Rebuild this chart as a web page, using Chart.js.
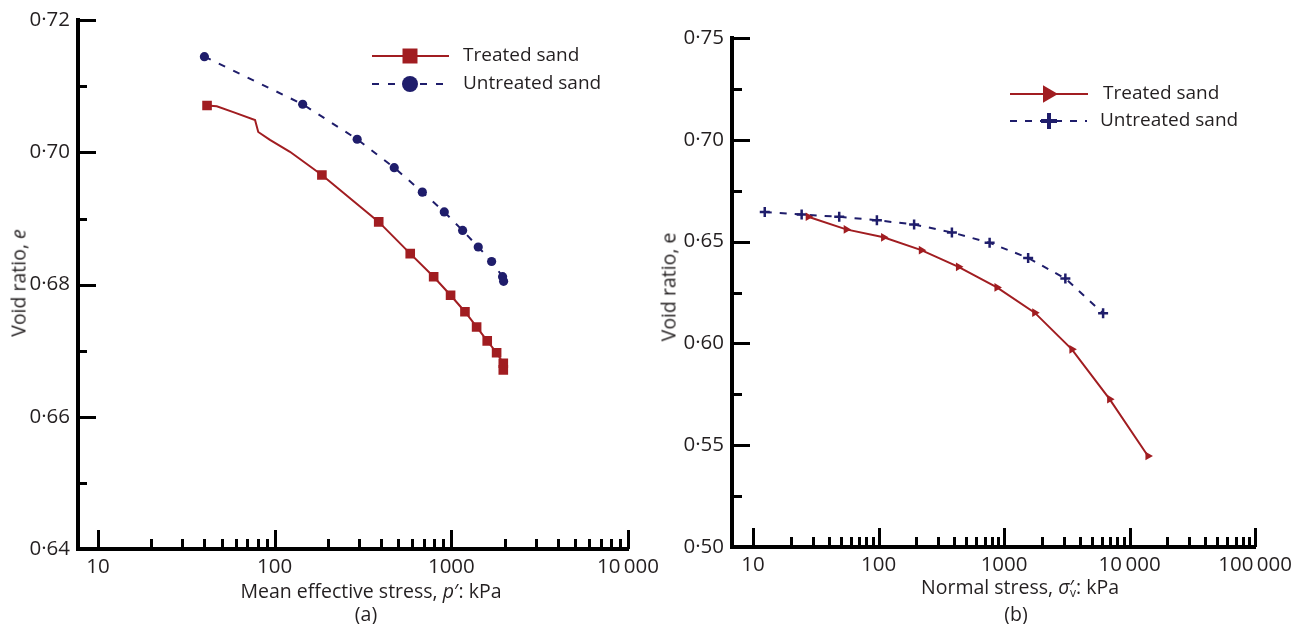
<!DOCTYPE html>
<html>
<head>
<meta charset="utf-8">
<script src="https://cdn.jsdelivr.net/npm/chart.js@4"></script>
<style>
  body { margin: 0; background: #fff; font-family: "Open Sans", sans-serif; color: #231f20; }
  #wrap { position: relative; width: 1298px; height: 624px; overflow: hidden; }
  canvas { position: absolute; top: 0; }
  .lbl { position: absolute; font-size: 19.5px; white-space: nowrap; transform: translate(-50%, -50%); }
  .rot { transform: translate(-50%, -50%) rotate(-90deg); }
  sub { font-size: 12px; vertical-align: -3px; margin-left: -4px; }
</style>
</head>
<body>
<div id="wrap">
  <canvas id="chartA" width="700" height="624" style="left:0"></canvas>
  <canvas id="chartB" width="649" height="624" style="left:649px"></canvas>
  <div class="lbl rot" style="left:18px;top:283px">Void ratio, <i>e</i></div>
  <div class="lbl" style="left:371px;top:590px">Mean effective stress, <i>p</i>′: kPa</div>
  <div class="lbl" style="left:366px;top:613px">(a)</div>
  <div class="lbl rot" style="left:668px;top:287px">Void ratio, e</div>
  <div class="lbl" style="left:1020px;top:587px">Normal stress, <i>σ</i>′<sub>v</sub>: kPa</div>
  <div class="lbl" style="left:1016px;top:613px">(b)</div>
</div>
<script>
// (a) mean effective stress p' (kPa) vs void ratio
// measured points (markers)
const treatedA_p = [41.4, 185, 388, 585, 794, 990, 1194, 1390, 1596, 1804, 1968, 1968];
const treatedA_e = [0.7071, 0.6966, 0.6895, 0.6847, 0.6812, 0.6784, 0.6759, 0.6736, 0.6715, 0.6697, 0.6681, 0.6671];
// continuous trace of the treated curve (line only)
const treatedA_trace_p = [41.4, 47, 58.3, 77.4, 80.7, 94, 122, 185, 388, 585, 794, 990, 1194, 1390, 1596, 1804, 1968, 1968];
const treatedA_trace_e = [0.7071, 0.7070, 0.7061, 0.7049, 0.7031, 0.7019, 0.7001, 0.6966, 0.6895, 0.6847, 0.6812, 0.6784, 0.6759, 0.6736, 0.6715, 0.6697, 0.6681, 0.6671];
const untreatedA_p = [40, 144, 293, 475, 685, 912, 1158, 1420, 1690, 1950, 1976];
const untreatedA_e = [0.7145, 0.7073, 0.7020, 0.6977, 0.6940, 0.6910, 0.6882, 0.6857, 0.6835, 0.6812, 0.6805];

// (b) normal stress (kPa) vs void ratio
const treatedB_s = [27.5, 55.2, 109.6, 219, 433, 877, 1753, 3467, 6930, 14000];
const treatedB_e = [0.6622, 0.6560, 0.6521, 0.6458, 0.6376, 0.6275, 0.6151, 0.5971, 0.5726, 0.5447];
const untreatedB_s = [12.4, 24.4, 48.6, 97, 192, 384, 767, 1555, 3077, 6150];
const untreatedB_e = [0.6645, 0.6633, 0.6622, 0.6605, 0.6584, 0.6545, 0.6494, 0.6420, 0.6319, 0.6148];

const xTicksA = [10, 100, 1000, 10000];
const xTicksB = [10, 100, 1000, 10000, 100000];

const RED = '#a11d21';
const NAVY = '#1f1d6b';
const TXT = '#231f20';

const pts = (xs, ys) => xs.map((x, i) => ({x: x, y: ys[i]}));
const fmtX = v => v >= 10000 ? String(v).replace(/\B(?=(\d{3})+(?!\d))/g, '\u2009') : String(v);
const fmtY = v => v.toFixed(2).replace('.', '\u00B7');

// tick marks pointing into the plot, long at decades / labelled values
const axisTicks = {
  id: 'axisTicks',
  afterDraw(chart, args, o) {
    const {ctx, chartArea: a, scales: {x, y}} = chart;
    ctx.save();
    ctx.strokeStyle = '#000';
    ctx.lineWidth = 3;
    ctx.beginPath();
    for (let d = o.xFirst; d <= x.max; d *= 10) {
      for (let m = 1; m <= 9; m++) {
        const v = m * d;
        if (v > x.max * 1.0001) continue;
        const px = Math.round(x.getPixelForValue(v)) + 0.5;
        ctx.moveTo(px, a.bottom);
        ctx.lineTo(px, a.bottom - (m === 1 ? o.xMajor : o.xMinor));
      }
    }
    for (let i = 0; y.min + i * o.yStep <= y.max + 1e-9; i++) {
      const py = Math.round(y.getPixelForValue(y.min + i * o.yStep)) + 0.5;
      ctx.moveTo(a.left, py);
      ctx.lineTo(a.left + (i % 2 === 0 ? o.yMajor : o.yMinor), py);
    }
    ctx.stroke();
    ctx.restore();
  }
};

// legend drawn as line sample + marker
const sampleLegend = {
  id: 'sampleLegend',
  afterDraw(chart, args, o) {
    const ctx = chart.ctx;
    ctx.save();
    o.items.forEach(it => {
      ctx.strokeStyle = it.color;
      ctx.fillStyle = it.color;
      ctx.lineWidth = 2;
      ctx.setLineDash(it.dash || []);
      ctx.beginPath();
      ctx.moveTo(it.x0, it.y);
      ctx.lineTo(it.x1, it.y);
      ctx.stroke();
      ctx.setLineDash([]);
      ctx.lineWidth = it.borderWidth || 0;
      Chart.helpers.drawPoint(ctx, {pointStyle: it.pointStyle, radius: it.radius, rotation: it.rotation || 0, borderWidth: it.borderWidth || 0}, it.mx, it.y);
      ctx.fillStyle = TXT;
      ctx.font = '19px "Open Sans"';
      ctx.textBaseline = 'middle';
      ctx.fillText(it.label, it.tx, it.y);
    });
    ctx.restore();
  }
};

function makeScales(xmin, xmax, xTicks, ymin, ymax, ystep, yWidth, xHeight) {
  const font = {family: '"Open Sans"', size: 20.5};
  return {
    x: {
      type: 'logarithmic', min: xmin, max: xmax,
      grid: {display: false, drawTicks: false},
      border: {display: true, width: 4, color: '#000'},
      afterBuildTicks: s => { s.ticks = xTicks.map(v => ({value: v})); },
      afterFit: s => { s.height = xHeight; },
      ticks: {autoSkip: false, maxRotation: 0, padding: 6, color: TXT, font: font, callback: v => fmtX(v)}
    },
    y: {
      min: ymin, max: ymax,
      grid: {display: false, drawTicks: false},
      border: {display: true, width: 4, color: '#000'},
      afterFit: s => { s.width = yWidth; },
      ticks: {stepSize: ystep, padding: 8, color: TXT, font: font, callback: v => fmtY(v)}
    }
  };
}

new Chart(document.getElementById('chartA'), {
  type: 'scatter',
  data: {
    datasets: [
      {label: 'Treated sand trace', data: pts(treatedA_trace_p, treatedA_trace_e), showLine: true,
       borderColor: RED, borderWidth: 2, pointRadius: 0},
      {label: 'Treated sand', data: pts(treatedA_p, treatedA_e), showLine: false,
       backgroundColor: RED, borderColor: RED, pointStyle: 'rect', pointRadius: 6.8, pointBorderWidth: 0},
      {label: 'Untreated sand', data: pts(untreatedA_p, untreatedA_e), showLine: true,
       borderColor: NAVY, backgroundColor: NAVY, borderWidth: 2, borderDash: [7, 9],
       pointStyle: 'circle', pointRadius: 4.6, pointBorderWidth: 0}
    ]
  },
  options: {
    responsive: false, animation: false,
    layout: {autoPadding: false, padding: {left: 0, top: 20, right: 72, bottom: 0}},
    scales: makeScales(7.7, 10000, xTicksA, 0.64, 0.72, 0.02, 78, 75),
    plugins: {
      legend: {display: false}, tooltip: {enabled: false},
      axisTicks: {xFirst: 10, xMajor: 19, xMinor: 10, yMajor: 18, yMinor: 9, yStep: 0.01},
      sampleLegend: {items: [
        {label: 'Treated sand', color: RED, x0: 372, x1: 449, y: 56, mx: 410, tx: 463, pointStyle: 'rect', radius: 10.6},
        {label: 'Untreated sand', color: NAVY, dash: [7, 9], x0: 372, x1: 449, y: 84, mx: 410, tx: 463, pointStyle: 'circle', radius: 8}
      ]}
    }
  },
  plugins: [axisTicks, sampleLegend]
});

new Chart(document.getElementById('chartB'), {
  type: 'scatter',
  data: {
    datasets: [
      {label: 'Treated sand', data: pts(treatedB_s, treatedB_e), showLine: true,
       borderColor: RED, backgroundColor: RED, borderWidth: 2,
       pointStyle: 'triangle', pointRotation: 90, pointRadius: 5, pointBorderWidth: 0},
      {label: 'Untreated sand', data: pts(untreatedB_s, untreatedB_e), showLine: true,
       borderColor: NAVY, backgroundColor: NAVY, borderWidth: 2, borderDash: [7, 8],
       pointStyle: 'cross', pointRadius: 5, pointBorderWidth: 2.5}
    ]
  },
  options: {
    responsive: false, animation: false,
    layout: {autoPadding: false, padding: {left: 0, top: 38, right: 35, bottom: 0}},
    scales: makeScales(6.8, 100000, xTicksB, 0.5, 0.75, 0.05, 83, 77),
    plugins: {
      legend: {display: false}, tooltip: {enabled: false},
      axisTicks: {xFirst: 10, xMajor: 19, xMinor: 10, yMajor: 18, yMinor: 10, yStep: 0.025},
      sampleLegend: {items: [
        {label: 'Treated sand', color: RED, x0: 361, x1: 439, y: 94, mx: 399, tx: 454, pointStyle: 'triangle', rotation: 90, radius: 10},
        {label: 'Untreated sand', color: NAVY, dash: [7, 8], x0: 361, x1: 438, y: 121, mx: 400, tx: 451, pointStyle: 'cross', radius: 8, borderWidth: 4}
      ]}
    }
  },
  plugins: [axisTicks, sampleLegend]
});
</script>
</body>
</html>
